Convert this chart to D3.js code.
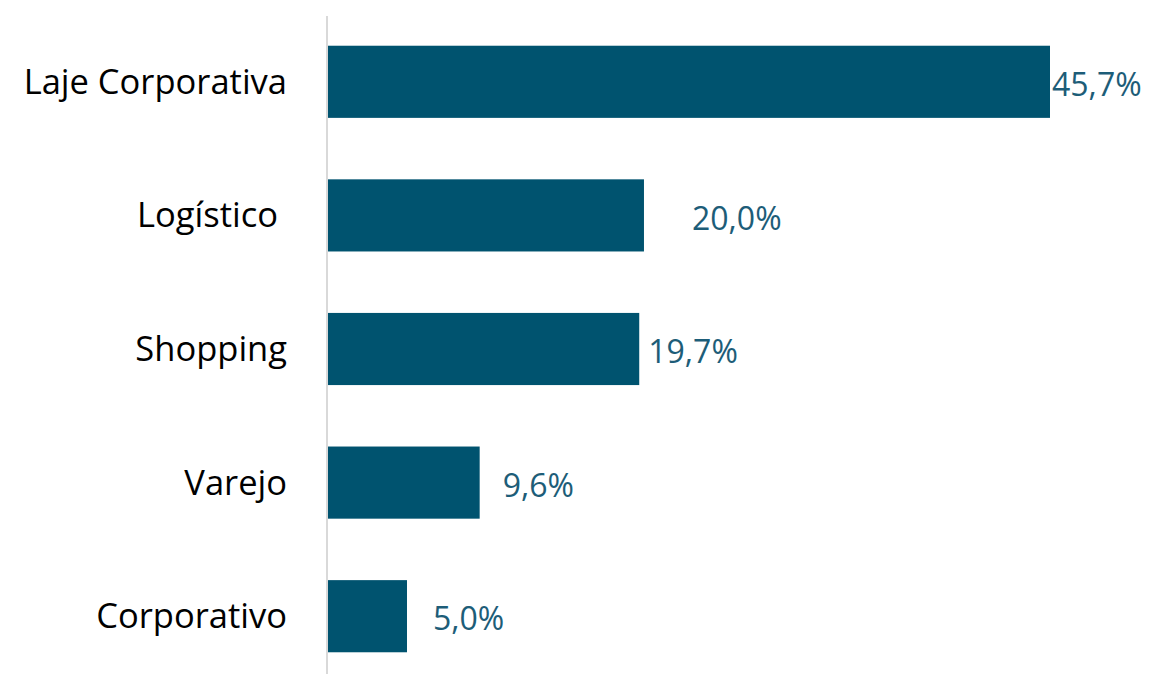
<!DOCTYPE html>
<html>
<head>
    <meta charset="utf-8">
    <script type="text/javascript" src="https://cdn.jsdelivr.net/npm/d3@7"></script>
    <style>
        body { margin: 0; background: #fff; }
    </style>
</head>
<body>
    <div id="viz"></div>
    <script type="text/javascript">

    // data
    var categories = ["Laje Corporativa", "Logístico ", "Shopping", "Varejo", "Corporativo"];
    var values = [45.7, 20.0, 19.7, 9.6, 5.0];
    var valueLabels = ["45,7%", "20,0%", "19,7%", "9,6%", "5,0%"];

    // the labels in the original were nudged by hand, keep the gaps here
    var labelGap = [2, 48, 9, 23, 26];

    var width = 1150;
    var height = 674;
    var barColor = "#00536f";
    var textColor = "#1d5d78";

    var svg = d3.select("#viz")
        .append("svg")
        .attr("width", width)
        .attr("height", height);

    var x = d3.scaleLinear()
        .domain([0, 45.7])
        .range([328, 1050]);

    var y = d3.scaleBand()
        .domain(categories)
        .range([15, 683])
        .paddingInner(0.46)
        .paddingOuter(0.23);

    // bars
    svg.selectAll("rect.bar")
        .data(values)
        .enter()
        .append("rect")
        .attr("class", "bar")
        .attr("x", x(0))
        .attr("y", function (d, i) { return y(categories[i]); })
        .attr("width", function (d) { return x(d) - x(0); })
        .attr("height", y.bandwidth())
        .style("fill", barColor);

    // vertical axis line
    svg.append("line")
        .attr("x1", x(0) - 1)
        .attr("x2", x(0) - 1)
        .attr("y1", 16)
        .attr("y2", height)
        .style("stroke", "#d9d9d9")
        .style("stroke-width", 2);

    // category labels
    svg.selectAll("text.cat")
        .data(categories)
        .enter()
        .append("text")
        .attr("class", "cat")
        .attr("x", 287)
        .attr("y", function (d) { return y(d) + y.bandwidth() / 2; })
        .attr("dy", "0.35em")
        .attr("text-anchor", "end")
        .style("white-space", "pre")
        .style("font-family", "'Open Sans', 'Noto Sans', sans-serif")
        .style("font-size", "34.5px")
        .style("fill", "#000")
        .text(function (d) { return d; });

    // value labels
    svg.selectAll("text.val")
        .data(values)
        .enter()
        .append("text")
        .attr("class", "val")
        .attr("x", function (d, i) { return x(d) + labelGap[i]; })
        .attr("y", function (d, i) { return y(categories[i]) + y.bandwidth() / 2 + 3; })
        .attr("dy", "0.35em")
        .style("font-family", "'Open Sans', 'Noto Sans', sans-serif")
        .style("font-size", "32px")
        .style("fill", textColor)
        .text(function (d, i) { return valueLabels[i]; });

    </script>
</body>
</html>
